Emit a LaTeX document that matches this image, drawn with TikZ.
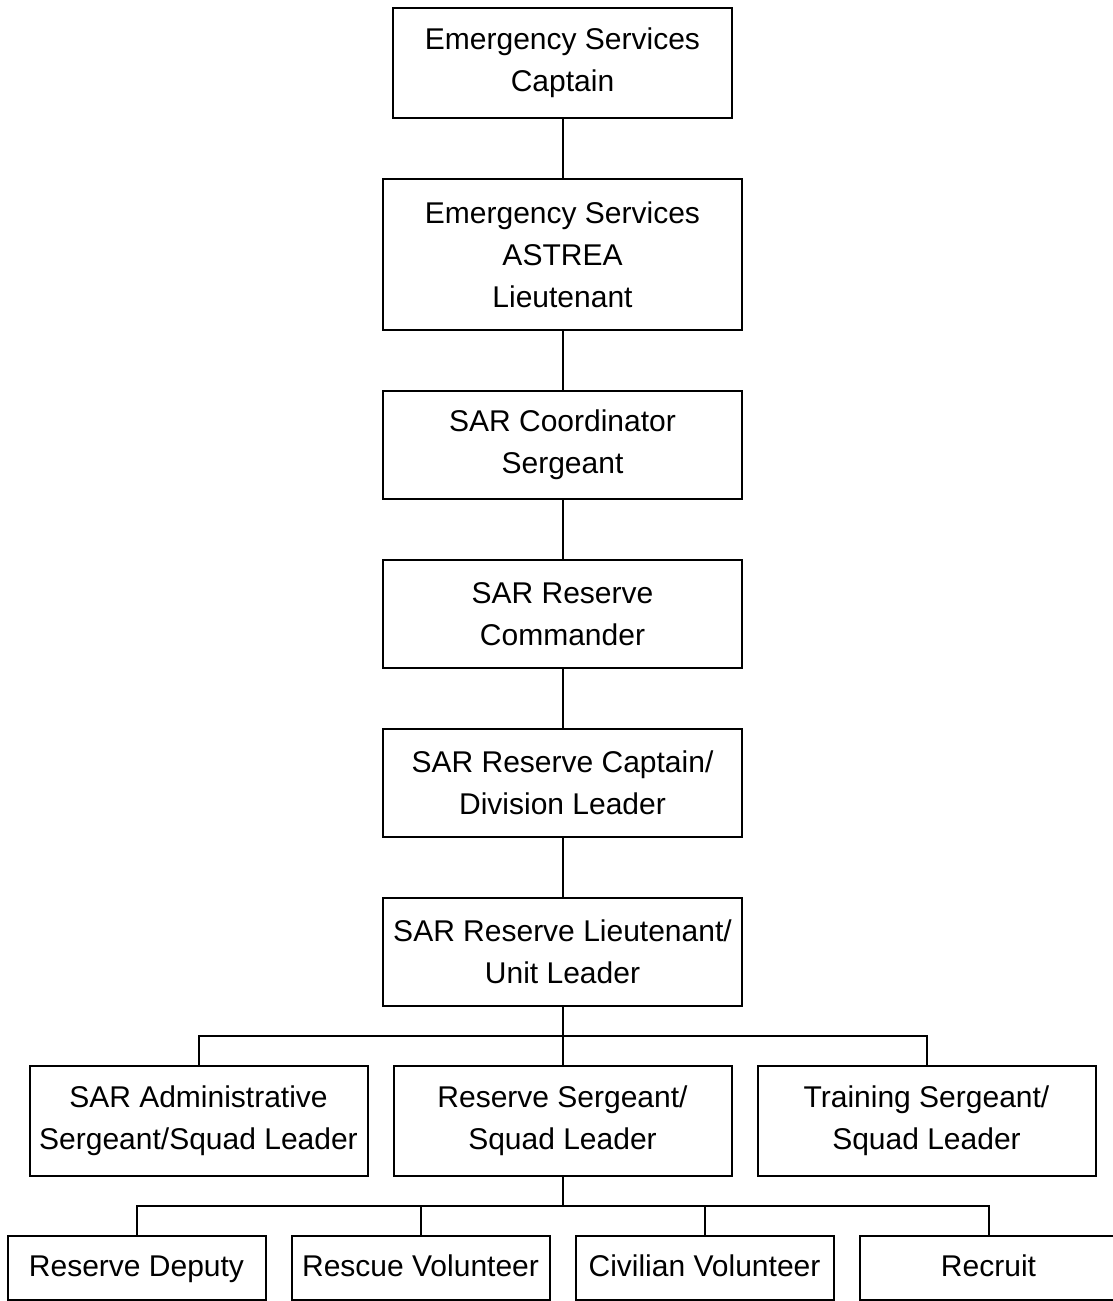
\documentclass[tikz,border=0pt]{standalone}
\usepackage{fontspec}
\setmainfont{Liberation Sans}
\usetikzlibrary{positioning, calc}
\tikzset{
  % Chain of command boxes
  rankbox/.style={draw=black, line width=1pt, align=center, inner sep=0pt, outer sep=0pt,
    font=\fontsize{15pt}{21pt}\selectfont},
  chainbox/.style={rankbox, minimum width=179.5pt, minimum height=54pt},
  headbox/.style={rankbox, minimum width=169.5pt, minimum height=55pt},
  squadbox/.style={rankbox, minimum width=169pt, minimum height=55pt},
  crewbox/.style={rankbox, minimum width=129pt, minimum height=32pt, text height=11pt, text depth=3pt},
  % Connectors
  orgline/.style={line width=1pt, draw=black},
}
\begin{document}
\begin{tikzpicture}[node distance=30.5pt]
  \useasboundingbox (0,0) rectangle (556.5pt,-650.5pt);
  \clip (0,0) rectangle (556.5pt,-650.5pt);

  % Command chain
  \node[headbox] (captain) at (281.25pt,-31.5pt) {Emergency Services\\ Captain};
  \node[chainbox, minimum height=75.5pt, below=of captain] (astrea) {Emergency Services\\ ASTREA\\ Lieutenant};
  \node[chainbox, below=of astrea] (coordinator) {SAR Coordinator\\ Sergeant};
  \node[chainbox, below=of coordinator] (commander) {SAR Reserve\\ Commander};
  \node[chainbox, below=of commander] (division) {SAR Reserve Captain/\\ Division Leader};
  \node[chainbox, below=of division] (lieutenant) {SAR Reserve Lieutenant/\\ Unit Leader};

  % Squad leaders
  \node[squadbox, below=30pt of lieutenant] (sergeant) {Reserve Sergeant/\\ Squad Leader};
  \node[squadbox, left=13pt of sergeant] (admin) {SAR Administrative\\ Sergeant/Squad Leader};
  \node[squadbox, right=13pt of sergeant] (training) {Training Sergeant/\\ Squad Leader};

  % Members
  \node[crewbox, below left=30pt and 6.5pt of sergeant.south] (rescue) {Rescue Volunteer};
  \node[crewbox, left=13pt of rescue] (deputy) {Reserve Deputy};
  \node[crewbox, below right=30pt and 6.5pt of sergeant.south] (civilian) {Civilian Volunteer};
  \node[crewbox, right=13pt of civilian] (recruit) {Recruit};

  \draw[orgline] (captain) -- (astrea);
  \draw[orgline] (astrea) -- (coordinator);
  \draw[orgline] (coordinator) -- (commander);
  \draw[orgline] (commander) -- (division);
  \draw[orgline] (division) -- (lieutenant);
  \draw[orgline] (lieutenant) -- (sergeant);

  \coordinate (squadbus) at ($(lieutenant.south)!0.5!(sergeant.north)$);
  \draw[orgline] (admin.north) |- (squadbus) -| (training.north);

  \coordinate[below=15pt of sergeant.south] (crewbus);
  \draw[orgline] (sergeant) -- (crewbus);
  \draw[orgline] (deputy.north) |- (crewbus) -| (recruit.north);
  \draw[orgline] (rescue.north) -- (rescue.north |- crewbus);
  \draw[orgline] (civilian.north) -- (civilian.north |- crewbus);

\end{tikzpicture}
\end{document}
